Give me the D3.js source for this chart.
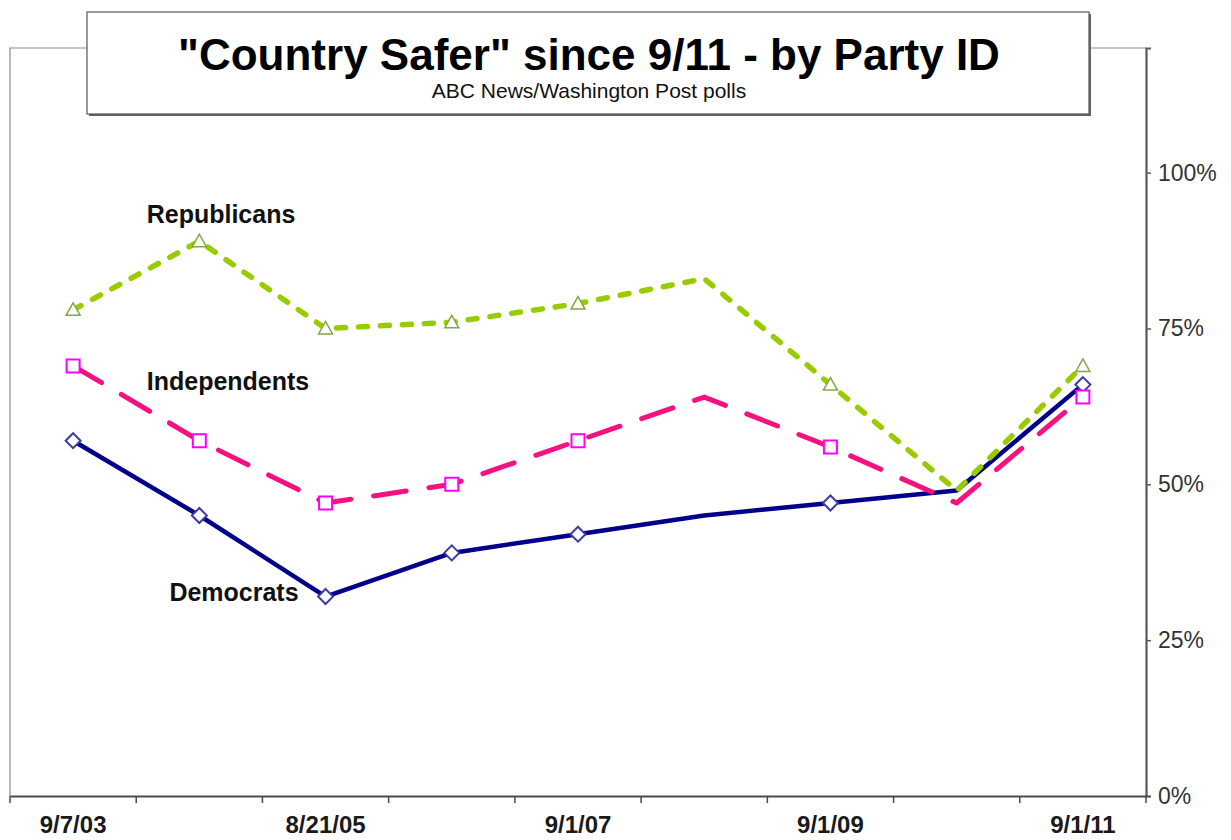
<!DOCTYPE html>
<html>
<head>
<meta charset="utf-8">
<script src="https://cdn.jsdelivr.net/npm/d3@7"></script>
<style>
  body { margin: 0; background: #fff; }
  text { font-family: "Liberation Sans", Arial, sans-serif; }
</style>
</head>
<body>
<svg id="chart" width="1231" height="840"></svg>
<script>
// Poll dates (only every other one is labelled on the axis)
const pollDates = ["9/7/03", "", "8/21/05", "", "9/1/07", "", "9/1/09", "", "9/1/11"];
// Share saying the country is safer since 9/11, in percent
const republicans  = [78, 89, 75, 76, 79, 83, 66, 49, 69];
const independents = [69, 57, 47, 50, 57, 64, 56, 47, 64];
const democrats    = [57, 45, 32, 39, 42, 45, 47, 49, 66];
// Polls drawn with a point marker
const markedPolls  = [true, true, true, true, true, false, true, false, true];
const yTicks = [0, 25, 50, 75, 100];

const svg = d3.select("#chart");
const plot = { left: 10, right: 1146, top: 48, bottom: 796 };

const x = d3.scaleBand()
  .domain(d3.range(pollDates.length))
  .range([plot.left, plot.right])
  .paddingInner(0).paddingOuter(0);
const cx = i => x(i) + x.bandwidth() / 2;

const y = d3.scaleLinear().domain([0, 120]).range([plot.bottom, plot.top]);

// plot frame (left, top, right)
svg.append("path")
  .attr("d", `M${plot.left},${plot.bottom}V${plot.top}H${plot.right}`)
  .attr("fill", "none").attr("stroke", "#8a8a8a").attr("stroke-width", 1.2);

// right-hand value axis
const yAxis = svg.append("g")
  .attr("transform", `translate(${plot.right},0)`)
  .call(d3.axisRight(y).tickValues(yTicks).tickSize(5).tickPadding(7)
    .tickFormat(d => d + "%"));
yAxis.select(".domain").attr("stroke", "#5a5a5a").attr("stroke-width", 2.2);
yAxis.selectAll(".tick line").attr("stroke", "#5a5a5a").attr("stroke-width", 1.5);
yAxis.selectAll(".tick text")
  .attr("fill", "#333").style("font-size", "23px")
  .style("font-family", "'Liberation Sans', Arial, sans-serif");

// bottom category axis with ticks at the band edges
const xAxis = svg.append("g")
  .attr("transform", `translate(0,${plot.bottom})`)
  .call(d3.axisBottom(x).tickSize(0).tickPadding(20).tickFormat(i => pollDates[i]));
xAxis.select(".domain").attr("stroke", "#4a4a4a").attr("stroke-width", 2.2);
xAxis.selectAll(".tick text")
  .attr("fill", "#1a1a1a").style("font-size", "24px").style("font-weight", "bold")
  .style("font-family", "'Liberation Sans', Arial, sans-serif");
const edges = d3.range(pollDates.length + 1).map(i => plot.left + i * x.step());
xAxis.selectAll(".edge-tick").data(edges).join("line")
  .attr("class", "edge-tick")
  .attr("x1", d => d).attr("x2", d => d)
  .attr("y1", 0).attr("y2", 7)
  .attr("stroke", "#4a4a4a").attr("stroke-width", 1.5);

// series definitions
const series = [
  { name: "Democrats", values: democrats, color: "#00008b", width: 4.5, dash: null,
    marker: "diamond", markStroke: "#3c3ca6" },
  { name: "Independents", values: independents, color: "#f7107f", width: 5, dash: "33,23",
    marker: "square", markStroke: "#ff00ff" },
  { name: "Republicans", values: republicans, color: "#99cc00", width: 5.5, dash: "9,13",
    marker: "triangle", markStroke: "#7fa84a" }
];

const line = d3.line().x((d, i) => cx(i)).y(d => y(d));

svg.selectAll(".series-line").data(series).join("path")
  .attr("class", "series-line")
  .attr("d", s => line(s.values))
  .attr("fill", "none")
  .attr("stroke", s => s.color)
  .attr("stroke-width", s => s.width)
  .attr("stroke-linecap", "round")
  .attr("stroke-linejoin", "round")
  .attr("stroke-dasharray", s => s.dash);

const markerPath = {
  diamond: "M0,-7.5L7.5,0L0,7.5L-7.5,0Z",
  square: "M-6.5,-6.5H6.5V6.5H-6.5Z",
  triangle: "M0,-7L7,5.5H-7Z"
};

["Democrats", "Republicans", "Independents"].forEach(name => {
  const s = series.find(d => d.name === name);
  svg.append("g").selectAll("path")
    .data(s.values.map((v, i) => ({ v, i })).filter(d => markedPolls[d.i]))
    .join("path")
    .attr("transform", d => `translate(${cx(d.i)},${y(d.v)})`)
    .attr("d", markerPath[s.marker])
    .attr("fill", "#fff")
    .attr("stroke", s.markStroke)
    .attr("stroke-width", s.marker === "triangle" ? 1.5 : 2);
});

// series labels
const labels = [
  { text: "Republicans", x: 221, y: 223 },
  { text: "Independents", x: 228, y: 390 },
  { text: "Democrats", x: 234, y: 601 }
];
svg.selectAll(".series-label").data(labels).join("text")
  .attr("class", "series-label")
  .attr("x", d => d.x).attr("y", d => d.y)
  .attr("text-anchor", "middle")
  .attr("fill", "#111")
  .style("font-size", "25px").style("font-weight", "bold")
  .text(d => d.text);

// title box with drop shadow
const box = { x: 87, y: 12, w: 1002, h: 102 };
svg.append("rect")
  .attr("x", box.x + 2).attr("y", box.y + 2).attr("width", box.w).attr("height", box.h)
  .attr("fill", "#666");
svg.append("rect")
  .attr("x", box.x).attr("y", box.y).attr("width", box.w).attr("height", box.h)
  .attr("fill", "#fff").attr("stroke", "#555").attr("stroke-width", 1.2);

svg.append("text")
  .attr("x", 589).attr("y", 70)
  .attr("text-anchor", "middle")
  .attr("fill", "#000")
  .style("font-size", "44px").style("font-weight", "bold")
  .text("\"Country Safer\" since 9/11 - by Party ID");

svg.append("text")
  .attr("x", 589).attr("y", 98)
  .attr("text-anchor", "middle")
  .attr("fill", "#111")
  .style("font-size", "21px")
  .text("ABC News/Washington Post polls");
</script>
</body>
</html>
